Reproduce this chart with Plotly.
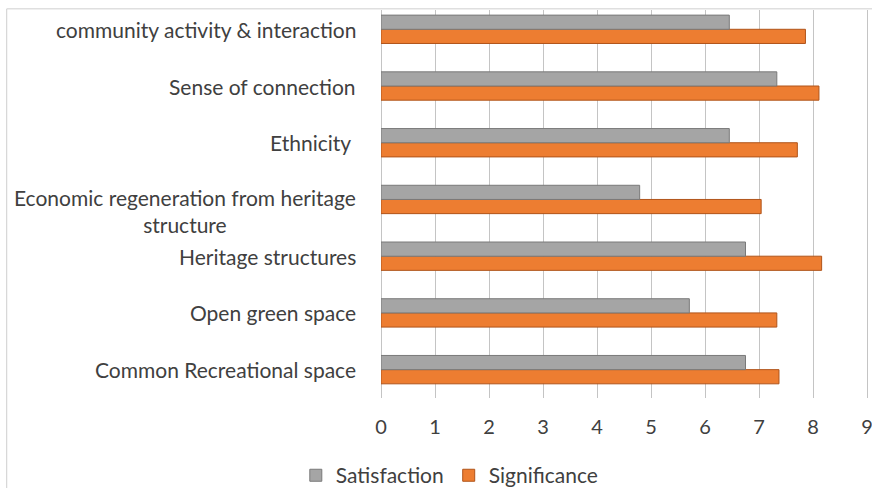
import plotly.graph_objects as go

categories = [
    "Common Recreational space",
    "Open green space",
    "Heritage structures",
    "Economic regeneration from heritage<br>structure",
    "Ethnicity\u00a0",
    "Sense of connection",
    "community activity & interaction",
]
satisfaction = [6.75, 5.71, 6.75, 4.79, 6.45, 7.33, 6.45]
significance = [7.37, 7.33, 8.16, 7.04, 7.71, 8.11, 7.86]
x_ticks = [0, 1, 2, 3, 4, 5, 6, 7, 8, 9]

FONT = "Lato, 'Open Sans', sans-serif"
TXT = "#404040"
GRID = "#c4c4c4"

fig = go.Figure()
fig.add_trace(go.Bar(
    y=categories, x=significance, name="Significance", orientation="h",
    marker=dict(color="#ED7D31", line=dict(color="#b0541a", width=1)),
    legendrank=2,
))
fig.add_trace(go.Bar(
    y=categories, x=satisfaction, name="Satisfaction", orientation="h",
    marker=dict(color="#A5A5A5", line=dict(color="#7a7a7a", width=1)),
    legendrank=1,
))

annotations = []
for c in categories:
    n = c.count("<br>")
    annotations.append(dict(
        x=0, xref="paper", y=c, yref="y", text=c, showarrow=False,
        xanchor="right", yanchor="middle", align="center",
        xshift=-23, yshift=-12 * n,
        font=dict(family=FONT, size=21, color=TXT),
    ))

fig.update_layout(
    template="none",
    width=872, height=488,
    margin=dict(l=381, r=3, t=10, b=90, autoexpand=False),
    paper_bgcolor="white", plot_bgcolor="white",
    barmode="group", bargap=0.5, bargroupgap=0,
    font=dict(family=FONT, color=TXT),
    legend=dict(
        orientation="h", x=0.141, xanchor="center", y=-0.2, yanchor="middle",
        font=dict(family=FONT, size=21, color=TXT),
        itemwidth=30,
    ),
    annotations=annotations,
    shapes=[
        dict(type="line", xref="paper", yref="paper",
             x0=-0.767, x1=1.03, y0=1.003, y1=1.003,
             line=dict(color="#cfcfcf", width=1)),
        dict(type="line", xref="paper", yref="paper",
             x0=-0.767, x1=-0.767, y0=-0.3, y1=1.003,
             line=dict(color="#cfcfcf", width=1)),
    ],
    xaxis=dict(
        range=[0, 9.037], tickmode="array", tickvals=x_ticks,
        showgrid=True, gridcolor=GRID, gridwidth=1,
        zeroline=True, zerolinecolor=GRID, zerolinewidth=1,
        showline=False, automargin=False, ticklabeloverflow="allow",
        tickfont=dict(family=FONT, size=20, color=TXT), ticks="",
        ticklabelstandoff=15,
    ),
    yaxis=dict(
        range=[-0.5, 6.34], showticklabels=False, showgrid=False,
        zeroline=False, showline=False, ticks="", automargin=False,
    ),
    showlegend=True,
)

fig.write_html(
    "out.html",
    config={"displayModeBar": False},
    post_script=(
        "document.body.style.margin='0';"
        "document.body.style.overflow='hidden';"
        "document.documentElement.style.overflow='hidden';"
    ),
)
